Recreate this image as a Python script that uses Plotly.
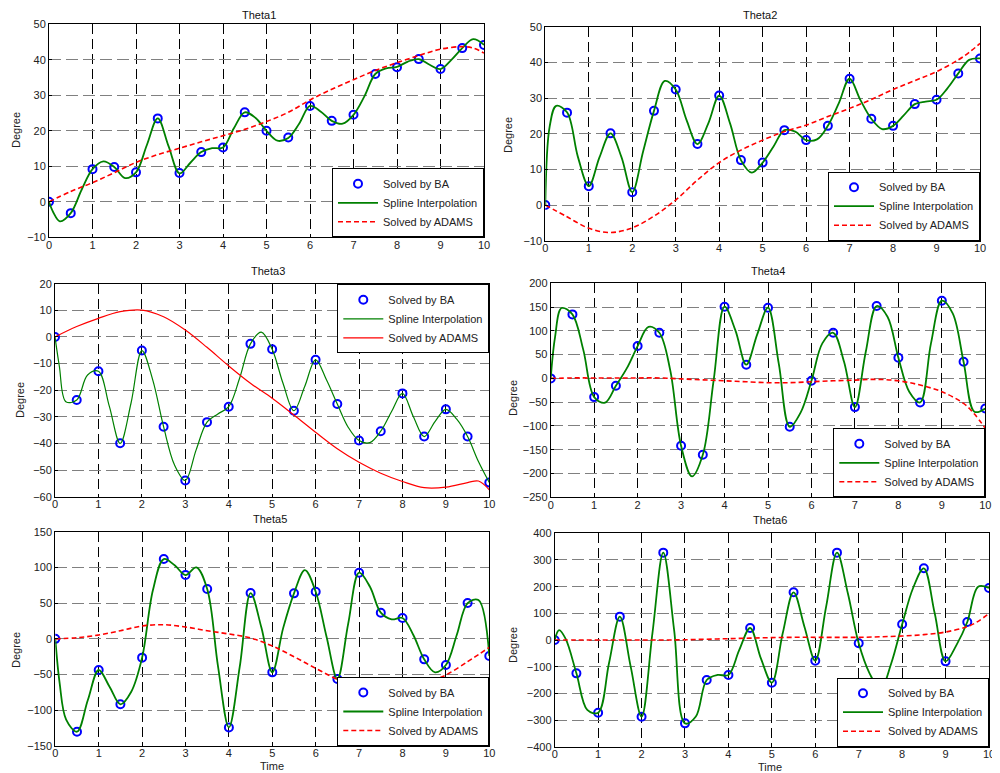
import plotly.graph_objects as go

# ---------------- data ----------------
BA_T = [i * 0.5 for i in range(21)]
FINE_T = [0, 0.1] + [i * 0.25 for i in range(1, 41)]
ADAMS_T = [i * 0.5 for i in range(20)] + [9.75, 10]

ba1 = [0, -3.2, 9.2, 9.8, 8.3, 23.5, 8.1, 14, 15.3, 25.2, 20, 18.1, 27, 22.8, 24.5, 36, 37.9, 40.2, 37.4, 43.3, 44.2]
sp1 = [0, -3, -5.5, -3.2, 3.4, 9.2, 11.4, 9.8, 6.7, 8.3, 16.0, 23.5, 15.6, 8.0, 11, 14, 15.1, 15.3, 20.7, 25.2, 23.6,
       20, 17.2, 18, 22, 27, 25.4, 22.8, 22, 24.5, 29.7, 36, 37.6, 38, 39.5, 40.2, 38.6, 37.4, 40, 43.3, 45.8, 44.2]
ad1 = [0, 2.9, 5.4, 8.2, 11.1, 13.3, 15.1, 16.9, 18.6, 20.4, 22.6, 25.2, 28.7, 31.7, 34.4, 37.0, 39.2, 41.2, 43, 43.7, 43.3, 41.9]

ba2 = [0, 25.9, 5.3, 20.1, 3.6, 26.4, 32.4, 17.1, 30.7, 12.6, 11.9, 21, 18.2, 22.2, 35.4, 24.2, 22.2, 28.3, 29.5, 36.9, 41.1]
sp2 = [0, 22, 27.8, 26, 13.5, 5.3, 13.5, 20.1, 13.5, 3.6, 15, 26.4, 34.8, 32.4, 23.8, 17.1, 22.9, 30.7, 22.9, 12.6, 9.1,
       11.9, 16.4, 21, 20.6, 18.2, 18.4, 22.2, 28.5, 35.4, 29.4, 24.2, 21.3, 22.2, 25.2, 28.3, 29, 29.5, 32.7, 36.9, 40.7, 41.1]
ad2 = [0, -3.3, -6.5, -7.7, -6.4, -3.1, 1.4, 7, 11.9, 15.4, 18.2, 20.6, 22.4, 24.8, 27.1, 29.6, 32.4, 34.9, 37.4, 40.7, 42.8, 45.3]

ba3 = [0, -23.7, -12.9, -39.9, -5.1, -33.7, -53.9, -32, -26.2, -2.6, -4.6, -27.7, -8.6, -25.2, -38.9, -35.4, -21.2, -37.4, -27.2, -37.4, -54.7]
sp3 = [0, -11, -24.3, -23.7, -14.3, -12.9, -26, -40, -24.9, -5.1, -16.1, -33.7, -48, -53.9, -42.4, -32, -28.9, -26.2, -15.5, -2.6, 1.8,
       -4.6, -17.4, -27.7, -18.6, -8.6, -16.1, -25.2, -33.9, -38.9, -39.7, -35.4, -28, -21.2, -29.9, -37.4, -31.8, -27.2, -30.9, -37.4, -46.8, -54.7]
ad3 = [0, 3.9, 7, 9.5, 10.1, 7.6, 2.6, -3.9, -10.9, -17.4, -23, -29.3, -35.8, -42, -47.1, -51.2, -54.3, -56.6, -56.4, -54.7, -54.1, -57.4]

ba4 = [0, 134.6, -39.3, -15.4, 68, 96, -141.7, -160.6, 150.8, 28.8, 148.7, -101.7, -4.9, 96, -60.3, 152.2, 43.5, -50.5, 163.4, 35, -63.1]
sp4 = [0, 87, 148, 134.6, 60, -39.3, -51, -15.4, 21, 68, 108.6, 96, 17.5, -141.7, -206, -160.6, -3.6, 150.8, 101, 28.8, 92,
       148.7, 30, -101.7, -72, -4.9, 73.6, 96, 35, -60.3, 56, 152.2, 129.7, 43.5, -28, -50.5, 73.6, 163.4, 136.7, 35, -70, -63.1]
ad4 = [0, 1, 1, 1, 1, 1, -1, -3, -5, -7, -9, -9, -7, -5, -3.5, -2, -5, -14, -28, -52.6, -75, -105]

ba5 = [0, -130, -43.6, -91.6, -26.3, 111.7, 89.3, 69.7, -124, 64.1, -46.9, 63.7, 66, -56.2, 92.6, 36.6, 29.2, -28.7, -36.6, 50.1, -24]
sp5 = [0, -62, -113, -130, -85.6, -43.6, -67, -91.6, -74, -26.3, 68.3, 111.7, 103, 89.3, 100, 69.7, -39, -124, -39, 64.1, 15.5,
       -46.9, 15, 63.7, 96.3, 66, 3, -56.2, 21.7, 92.6, 73, 36.6, 27.3, 29.2, 5.4, -28.7, -46.9, -36.6, 5.4, 50.1, 54.3, -24]
ad5 = [0, 1.6, 5.4, 11.4, 18, 19.8, 16.6, 11.4, 6.8, 1.2, -10, -25, -41.3, -56.7, -67, -71.6, -71.6, -63.2, -50.6, -31.9, -22, -11.9]

ba6 = [0, -125, -272.5, 87.5, -287.5, 327.5, -312.5, -150, -131, 45, -160, 178.8, -77.5, 327.5, -12.5, -185, 58.8, 268.8, -80, 67.5, 195]
sp6 = [0, 37, 5, -125, -262, -272.5, -87, 87.5, -100, -287.5, 25, 327.5, 37, -312.5, -287, -150, -131, -131, -37, 45, -70,
       -160, 25, 178.8, 50, -77.5, 125, 327.5, 175, -12.5, -125, -185, -87, 58.8, 194, 268.8, 100, -80, -19, 67.5, 200, 195]
ad6 = [0, 0, 0, 0, 0, 0, 1, 3, 5, 7, 9, 10, 10, 10, 10, 12, 15, 20, 30, 50, 70, 100]

TITLES = ["Theta1", "Theta2", "Theta3", "Theta4", "Theta5", "Theta6"]
Y_RANGES = [(-10, 50, 10), (-10, 50, 10), (-60, 20, 10), (-250, 200, 50), (-150, 150, 50), (-400, 400, 100)]
SERIES = [(ba1, sp1, ad1), (ba2, sp2, ad2), (ba3, sp3, ad3), (ba4, sp4, ad4), (ba5, sp5, ad5), (ba6, sp6, ad6)]

# ---------------- layout geometry (page pixels) ----------------
OFF = 8                      # page body margin around the figure div
W, H = 1000 - OFF, 773 - OFF  # figure size so it fits the window exactly


def px(x):
    return (x - OFF) / W


def py(y):
    return 1 - (y - OFF) / H


BOXES = [
    (49, 484, 24.3, 237.3),
    (545.3, 980, 26.7, 240.7),
    (55, 489.3, 283.7, 496.7),
    (550.7, 985.3, 283.3, 497.3),
    (55.3, 489.3, 531.7, 746),
    (554.7, 989, 533.3, 746.7),
]
LEG_POS = [
    (484, 237.3, "right", "bottom"),
    (980, 240.7, "right", "bottom"),
    (489.3, 284.3, "right", "top"),
    (985.3, 497.3, "right", "bottom"),
    (489.3, 746, "right", "bottom"),
    (989, 746.7, "right", "bottom"),
]
TITLE_POS = [(259, 15), (760, 15), (268, 271), (768, 271), (270, 519), (770, 520)]
DEGREE_POS = [(16, 130), (508, 135), (20, 400), (513, 398), (16, 650), (513, 645)]
TIME_POS = [(272, 766), (770, 767)]

FONT = "Liberation Sans, Arial, sans-serif"

fig = go.Figure()
layout = dict(
    width=W, height=H,
    margin=dict(l=0, r=0, t=0, b=0, autoexpand=False),
    paper_bgcolor="white", plot_bgcolor="white",
    font=dict(family=FONT, size=11, color="#222"),
    showlegend=True,
)
annotations = []

for k in range(6):
    n = "" if k == 0 else str(k + 1)
    xa, ya = "x" + n, "y" + n
    leg = "legend" + n
    ba, sp, ad = SERIES[k]
    thin = (k == 2)
    fig.add_trace(go.Scatter(
        x=BA_T, y=ba, mode="markers", name="Solved by BA",
        marker=dict(symbol="circle-open", size=8, color="#0000ff", line=dict(width=2, color="#0000ff")),
        xaxis=xa, yaxis=ya, legend=leg))
    fig.add_trace(go.Scatter(
        x=FINE_T, y=sp, mode="lines", name="Spline Interpolation",
        line=dict(color="#008000", width=1.2 if thin else 1.8, shape="spline", smoothing=1.0),
        xaxis=xa, yaxis=ya, legend=leg))
    fig.add_trace(go.Scatter(
        x=ADAMS_T, y=ad, mode="lines", name="Solved by ADAMS",
        line=dict(color="#ff0000", width=1.2 if thin else 1.6, shape="spline", smoothing=1.0,
                  dash="solid" if thin else "5px,3px"),
        xaxis=xa, yaxis=ya, legend=leg))

    l, r, t, b = BOXES[k]
    y0, y1, dy = Y_RANGES[k]
    layout["xaxis" + n] = dict(
        domain=[px(l), px(r)], anchor=ya, range=[0, 10], dtick=1, tick0=0,
        showline=True, mirror=True, linecolor="black", linewidth=1,
        showgrid=True, gridcolor="black", gridwidth=1, griddash="10px,5px",
        zeroline=False, ticks="inside", ticklen=3, tickcolor="black",
        ticklabelstandoff=-3, automargin=False,
        tickfont=dict(size=11, color="#222"), fixedrange=True)
    layout["yaxis" + n] = dict(
        domain=[py(b), py(t)], anchor=xa, range=[y0, y1], dtick=dy, tick0=y0,
        showline=True, mirror=True, linecolor="black", linewidth=1,
        showgrid=True, gridcolor="#808080", gridwidth=1.3, griddash="12px,5px",
        zeroline=False, ticks="inside", ticklen=3, tickcolor="black", automargin=False,
        tickfont=dict(size=11, color="#222"), fixedrange=True)
    lx, ly, xan, yan = LEG_POS[k]
    layout[leg] = dict(
        x=px(lx), y=py(ly), xanchor=xan, yanchor=yan, xref="paper", yref="paper",
        bgcolor="white", bordercolor="black", borderwidth=1,
        font=dict(size=11, color="#222", family=FONT), tracegroupgap=0,
        itemwidth=40)

    tx, ty = TITLE_POS[k]
    annotations.append(dict(text=TITLES[k], x=px(tx), y=py(ty), xref="paper", yref="paper",
                            showarrow=False, borderpad=0, font=dict(size=11, color="#111"),
                            xanchor="center", yanchor="middle"))
    dx, dyp = DEGREE_POS[k]
    annotations.append(dict(text="Degree", x=px(dx), y=py(dyp), xref="paper", yref="paper",
                            showarrow=False, borderpad=0, textangle=-90, font=dict(size=11, color="#222"),
                            xanchor="center", yanchor="middle"))

for (tx, ty) in TIME_POS:
    annotations.append(dict(text="Time", x=px(tx), y=py(ty), xref="paper", yref="paper",
                            showarrow=False, borderpad=0, font=dict(size=11, color="#222"),
                            xanchor="center", yanchor="middle"))

layout["annotations"] = annotations
fig.update_layout(**layout)
fig.write_html("out.html")
